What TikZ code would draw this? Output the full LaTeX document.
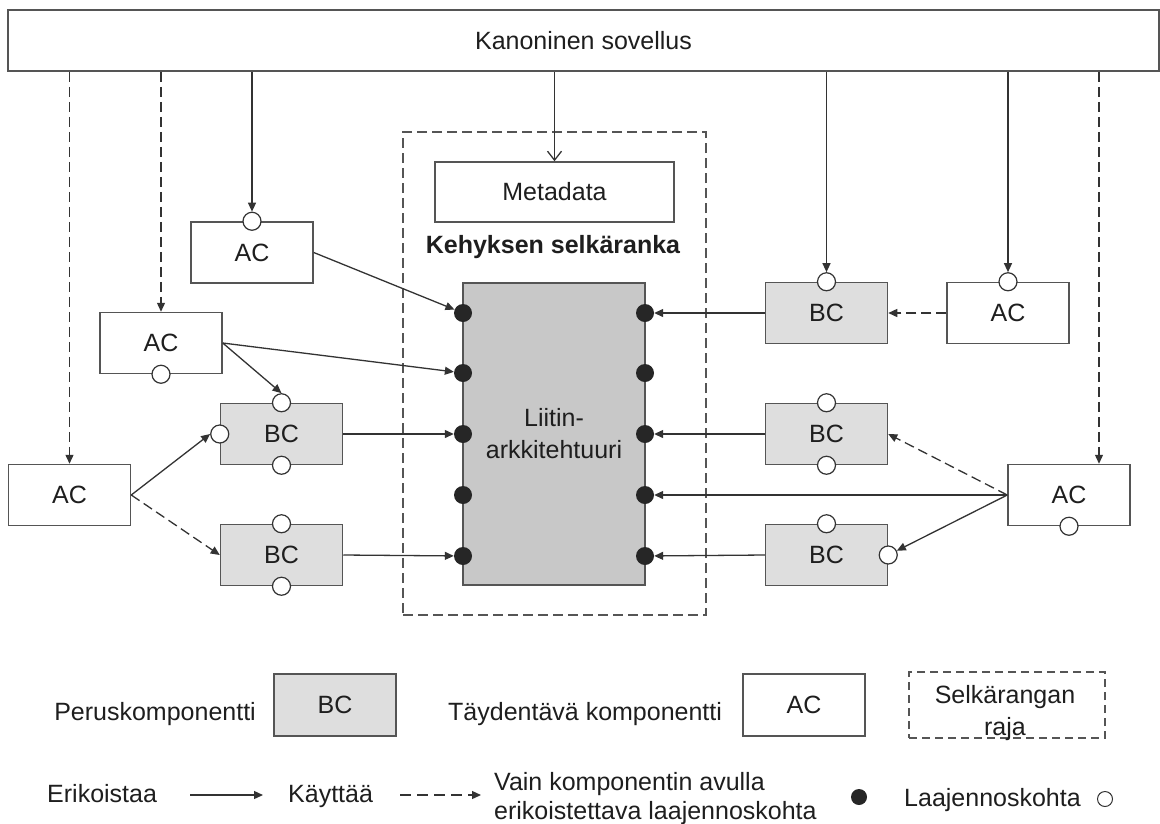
\documentclass[tikz,border=0pt]{standalone}
\usepackage{fontspec}
\setmainfont{Liberation Sans}
\usetikzlibrary{arrows.meta,calc}

\definecolor{edge}{HTML}{333333}
\definecolor{frame}{HTML}{555555}
\definecolor{bcfill}{HTML}{DEDEDE}
\definecolor{corefill}{HTML}{C8C8C8}
\definecolor{ink}{HTML}{1E1E1E}

\begin{document}
\begin{tikzpicture}[x=1pt,y=-1pt,
  every node/.style={font=\fontsize{25}{30}\selectfont, text=ink, inner sep=0pt},
  box/.style={draw=frame, line width=1.5pt, fill=white, minimum width=122pt, minimum height=61pt},
  bcbox/.style={box, fill=bcfill},
  ep/.style={circle, draw=edge, fill=white, line width=1.2pt, minimum size=18pt},
  sp/.style={circle, fill=black!85, minimum size=18pt},
  link/.style={draw=edge, line width=1.3pt, -{Triangle[length=9pt,width=8pt]}},
  uses/.style={link, dash pattern=on 10pt off 5pt},
  dashframe/.style={draw=frame, line width=1.5pt, dash pattern=on 10pt off 5pt},
]
\useasboundingbox (0,0) rectangle (1160,823);

% application layer
\node[box, minimum width=1151pt] (top) at (583.5,40.5) {Kanoninen sovellus};

% framework backbone
\node[dashframe, minimum width=303pt, minimum height=483pt] (spine) at (554.5,373.5) {};
\node[box, minimum width=239pt, minimum height=60pt] (meta) at (554.5,192) {Metadata};
\node[font=\bfseries\fontsize{25}{30}\selectfont] (spinelabel) at (553,247) {Kehyksen selkäranka};
\node[draw=frame, fill=corefill, line width=1.5pt, minimum width=182pt, minimum height=302pt,
      align=center, font=\fontsize{25}{32}\selectfont] (core) at (554,434) {Liitin-\\arkkitehtuuri};

% components
\node[box]   (acA)  at (252,252.5) {AC};
\node[box]   (acB)  at (161,343)   {AC};
\node[box]   (acC)  at (69.5,495)  {AC};
\node[bcbox] (bc1)  at (281.5,434) {BC};
\node[bcbox] (bc2)  at (281.5,555) {BC};
\node[bcbox] (bcR1) at (826.5,313) {BC};
\node[box]   (acR1) at (1008,313)  {AC};
\node[bcbox] (bcR2) at (826.5,434) {BC};
\node[bcbox] (bcR3) at (826.5,555) {BC};
\node[box]   (acR2) at (1069,495)  {AC};

% extension points of the components
\node[ep] (acAx)  at (acA.north)  {};
\node[ep] (acBx)  at (acB.south)  {};
\node[ep] (bc1n)  at (bc1.north)  {};
\node[ep] (bc1s)  at (bc1.south)  {};
\node[ep] (bc1w)  at (bc1.west)   {};
\node[ep] (bc2n)  at (bc2.north)  {};
\node[ep] (bc2s)  at (bc2.south)  {};
\node[ep] (bcR1x) at (bcR1.north) {};
\node[ep] (acR1x) at (acR1.north) {};
\node[ep] (bcR2n) at (bcR2.north) {};
\node[ep] (bcR2s) at (bcR2.south) {};
\node[ep] (bcR3n) at (bcR3.north) {};
\node[ep] (bcR3e) at (bcR3.east)  {};
\node[ep] (acR2x) at (acR2.south) {};

% connector-only extension points of the backbone
\foreach \i/\y in {1/313,2/373,3/434,4/495,5/556}{
  \node[sp] (L\i) at (463,\y) {};
  \node[sp] (R\i) at (645,\y) {};
}

% from the application
\draw[link] (top.south -| acAx) -- (acAx);
\draw[uses] (top.south -| acB) -- (acB.north);
\draw[uses] (top.south -| acC) -- (acC.north);
\draw[draw=edge, line width=1.3pt, -{Straight Barb[length=9pt,width=14pt]}] (top.south -| meta) -- (meta.north);
\draw[link] (top.south -| bcR1x) -- (bcR1x);
\draw[link] (top.south -| acR1x) -- (acR1x);
\coordinate (acR2in) at ($(acR2.north)+(30,0)$);
\draw[uses] (top.south -| acR2in) -- (acR2in);

% left side
\draw[link] (acA.east) -- (L1);
\draw[link] (acB.east) -- (L2);
\draw[link] (acB.east) -- (bc1n.north);
\draw[link] (bc1.east) -- (L3);
\draw[link] (bc2.east) -- (L5);
\draw[link] (acC.east) -- (bc1w.west);
\draw[uses] (acC.east) -- (bc2.west);

% right side
\draw[link] (bcR1.west) -- (R1);
\draw[uses] (acR1.west) -- (bcR1.east);
\draw[link] (bcR2.west) -- (R3);
\draw[link] (bcR3.west) -- (R5);
\draw[link] (acR2.west) -- (R4);
\draw[uses] (acR2.west) -- (bcR2.east);
\draw[link] (acR2.west) -- (bcR3e);

% legend
\node[anchor=base east] (lgbcT) at (256,720) {Peruskomponentti};
\node[bcbox, minimum height=62pt] (lgbc) at (335,705) {BC};
\node[anchor=base west] (lgacT) at (448,720) {Täydentävä komponentti};
\node[box, minimum height=62pt] (lgac) at (804,705) {AC};
\node[dashframe, dash pattern=on 8pt off 5pt, minimum width=196pt, minimum height=66pt] (lgsp) at (1007,705) {};
\node[anchor=base] (lgsp1) at (1005,703) {Selkärangan};
\node[anchor=base] (lgsp2) at (1005,735) {raja};

\node[anchor=base west] (lgspec) at (47,802) {Erikoistaa};
\coordinate (lga1) at (190,795);
\coordinate (lga2) at (263,795);
\draw[link] (lga1) -- (lga2);
\node[anchor=base west] (lguse) at (288,802) {Käyttää};
\coordinate (lgb1) at (400,795);
\coordinate (lgb2) at (481,795);
\draw[uses, dash pattern=on 11pt off 6pt] (lgb1) -- (lgb2);
\node[anchor=base west] (lgv1) at (494,790) {Vain komponentin avulla};
\node[anchor=base west] (lgv2) at (494,819) {erikoistettava laajennoskohta};
\node[sp, minimum size=16pt] (lgdot) at (859,797) {};
\node[anchor=base west] (lgext) at (904,806) {Laajennoskohta};
\node[ep, minimum size=15pt, line width=1pt] (lgcirc) at (1105,799) {};
\end{tikzpicture}
\end{document}
